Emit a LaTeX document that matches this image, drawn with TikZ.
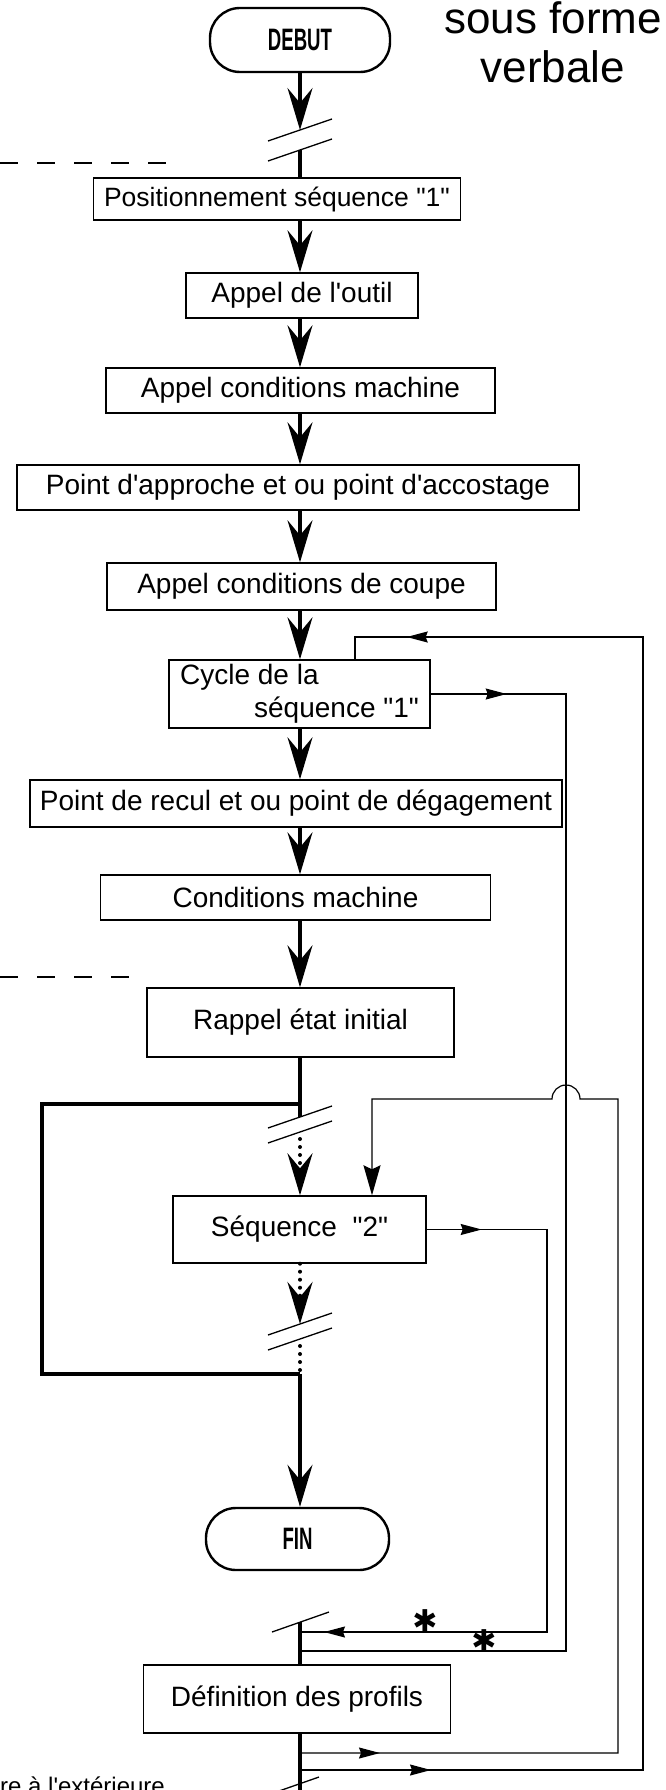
\documentclass[tikz,border=0pt]{standalone}
\usepackage{fontspec}
\setmainfont{Liberation Sans}[Ligatures=TeXOff]
\newfontfamily\symbfont{DejaVu Sans}
\usepackage{graphicx}
\usetikzlibrary{arrows.meta,decorations.markings}

\tikzset{
  etape/.style={draw, line width=1.4pt, inner sep=0pt, font=\fontsize{28}{33}\selectfont},
  terminal/.style={draw, line width=2.4pt, rounded corners=30pt, inner sep=0pt,
    font=\fontsize{31}{31}\selectfont\bfseries},
  pointe/.style={-{Stealth[length=42pt,width=25pt,inset=15pt]}},
  trait/.style={line width=3.2pt},
  flux/.style={trait, pointe},
  pointille/.style={line width=4pt, line cap=round, dash pattern=on 0pt off 8pt},
  retour/.style={line width=1.2pt},
  coupure/.style={line width=1.3pt},
  tirets/.style={line width=1.3pt, dash pattern=on 18pt off 19pt},
  fleche at/.style={postaction={decorate, decoration={markings,
    mark=at position #1 with {\arrow{Stealth[length=21pt,width=11pt,inset=2pt]}}}}},
  etoile/.style={inner sep=0pt, font=\symbfont\fontsize{30}{30}\selectfont\bfseries},
}

\begin{document}
\begin{tikzpicture}[x=1pt, y=-1pt]
\useasboundingbox (0,0) rectangle (665,1790);

%%% axe principal %%%
\coordinate (axe) at (300,0);

\node[terminal, minimum width=180pt, minimum height=64pt] (debut) at (300,40) {\scalebox{.6}[1]{DEBUT}};
\node[anchor=north, align=center, inner sep=0pt, font=\fontsize{44}{49}\selectfont] (titre) at (553,1) {sous forme\\verbale};

\node[etape, minimum width=367pt, minimum height=42pt, font=\fontsize{26.5}{33}\selectfont] (pos) at (277,199) {Positionnement séquence "1"};
\node[etape, minimum width=232pt, minimum height=45pt] (outil) at (302,295.5) {Appel de l'outil};
\node[etape, minimum width=389pt, minimum height=45pt] (condmach) at (300.5,390.5) {Appel conditions machine};
\node[etape, minimum width=562pt, minimum height=45pt] (approche) at (298,487.5) {Point d'approche et ou point d'accostage};
\node[etape, minimum width=389pt, minimum height=47pt] (coupe) at (301.5,586.5) {Appel conditions de coupe};
\node[etape, minimum width=261pt, minimum height=68pt, align=left] (cycle) at (299.5,694) {Cycle de la\\\hspace*{74pt}séquence "1"};
\node[etape, minimum width=532pt, minimum height=47pt] (recul) at (296,803.5) {Point de recul et ou point de dégagement};
\node[etape, minimum width=390pt, minimum height=45pt] (condmach2) at (295.5,897.5) {Conditions machine};
\node[etape, minimum width=307pt, minimum height=69pt] (rappel) at (300.5,1022.5) {Rappel état initial};
\node[etape, minimum width=253pt, minimum height=67pt] (seq2) at (299.5,1229.5) {Séquence \ "2"};
\node[terminal, minimum width=183pt, minimum height=62pt] (fin) at (297.5,1539) {\scalebox{.6}[1]{FIN}};
\node[etape, minimum width=307pt, minimum height=68pt] (defprof) at (297,1699) {Définition des profils};

\node[anchor=base west, inner sep=0pt, font=\fontsize{24}{24}\selectfont] (note) at (0,1794) {re à l'extérieure};

%% coupures
\coordinate (c1) at (300,130);
\coordinate (c2) at (300,150);
\coordinate (c3) at (300,1117);
\coordinate (c4) at (300,1132);
\coordinate (c5) at (300,1324);
\coordinate (c6) at (300,1339);
\coordinate (c7) at (300,1622);
\coordinate (c8) at (300,1800);
\coordinate (c9) at (300,1783);
\coordinate (g1) at (300,1104);
\coordinate (g2) at (300,1374);
\coordinate (xg) at (42,0);

\draw[flux] (debut.south) -- (c1);
\draw[coupure] (c1) ++(-32,11) -- ++(64,-22);
\draw[coupure] (c2) ++(-32,11) -- ++(64,-22);
\draw[trait] (c2) -- (pos.north -| axe);
\draw[flux] (pos.south -| axe) -- (outil.north -| axe);
\draw[flux] (outil.south -| axe) -- (condmach.north -| axe);
\draw[flux] (condmach.south -| axe) -- (approche.north -| axe);
\draw[flux] (approche.south -| axe) -- (coupe.north -| axe);
\draw[flux] (coupe.south -| axe) -- (cycle.north -| axe);
\draw[flux] (cycle.south -| axe) -- (recul.north -| axe);
\draw[flux] (recul.south -| axe) -- (condmach2.north -| axe);
\draw[flux] (condmach2.south -| axe) -- (rappel.north -| axe);

%% boucle
\draw[trait] (rappel.south -| axe) -- (c3);
\draw[trait] (g1) -- (xg |- g1) -- (xg |- g2) -- (g2);
\draw[coupure] (c3) ++(-32,11) -- ++(64,-22);
\draw[coupure] (c4) ++(-32,11) -- ++(64,-22);
\draw[pointille, pointe, shorten <=7pt] (c4) -- (seq2.north -| axe);
\draw[pointille, pointe] (seq2.south -| axe) -- (c5);
\draw[coupure] (c5) ++(-32,11) -- ++(64,-22);
\draw[coupure] (c6) ++(-32,11) -- ++(64,-22);
\draw[pointille, shorten <=7pt] (c6) -- (g2);
\draw[flux] (g2) -- (fin.north -| axe);

%% definition des profils
\draw[trait] (c7) -- (defprof.north -| axe);
\draw[coupure] (c7) ++(-28,10) -- ++(57,-20);
\draw[trait] (defprof.south -| axe) -- (c8);
\draw[coupure] (c9) ++(19,-6) -- ++(-60,21);

%% liaisons laterales
\coordinate (x1) at (566,0);
\coordinate (x2) at (643,0);
\coordinate (x3) at (618,0);
\coordinate (x4) at (547,0);
\coordinate (jA) at (300,1632);
\coordinate (jB) at (300,1651);
\coordinate (jC) at (300,1753);
\coordinate (jD) at (300,1770);
\coordinate (fb) at (355,637);
\coordinate (s2in) at (372,1099);
\coordinate (bosse) at (580,1099);

\draw[retour, fleche at=76pt] (cycle.east) -| (x1 |- jB) -- (jB);
\draw[retour, fleche at=55pt, fleche at=-24pt] (seq2.east) -| (x4 |- jA) -- (jA);
\draw[retour, fleche at=80pt, -{Stealth[length=30pt,width=17pt,inset=4pt]}]
  (jC) -| (x3 |- s2in) -- (bosse) arc[start angle=0, end angle=-180, radius=14] -- (s2in) -- (s2in |- seq2.north);
\draw[retour, fleche at=131pt, fleche at=-74pt] (jD) -| (x2 |- fb) -- (fb) -- (cycle.north -| fb);

\node[etoile] (etoile1) at (425,1621) {✱};
\node[etoile] (etoile2) at (484,1641) {✱};

%% tirets
\draw[tirets] (0,163) -- (174,163);
\draw[tirets] (0,977) -- (138,977);

\end{tikzpicture}
\end{document}
